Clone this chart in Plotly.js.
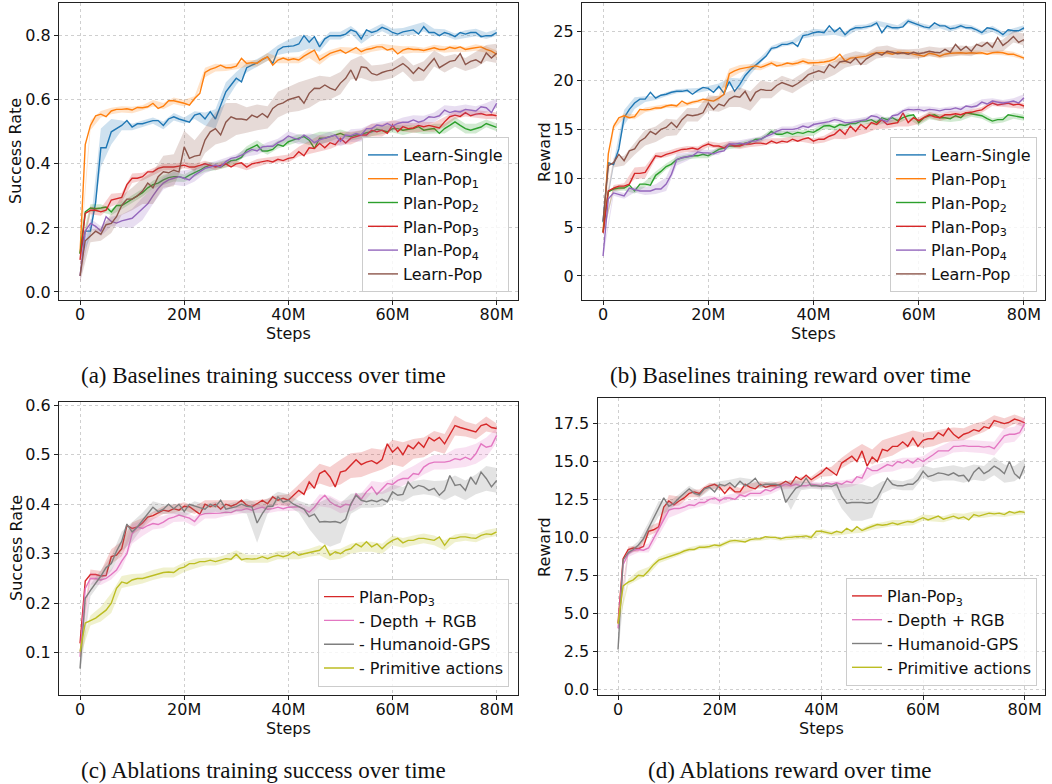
<!DOCTYPE html>
<html><head><meta charset="utf-8">
<script src="https://cdn.plot.ly/plotly-3.0.1.min.js"></script>
<style>html,body{margin:0;padding:0;background:#fff;}#chart{width:1052px;height:784px;}</style>
</head><body><div id="chart"></div>
<script>
// ---------- shared x (millions of steps) ----------
const steps = [0,1,2,3,4,5,6,7,8,9,10,11,12,13,14,15,16,17,18,19,20,21,22,23,24,25,26,27,28,29,30,31,32,33,34,35,36,37,38,39,40,41,42,43,44,45,46,47,48,49,50,51,52,53,54,55,56,57,58,59,60,61,62,63,64,65,66,67,68,69,70,71,72,73,74,75,76,77,78,79,80];
const bandSteps = [0,2,4,6,8,10,12,14,16,18,20,22,24,26,28,30,32,34,36,38,40,42,44,46,48,50,52,54,56,58,60,62,64,66,68,70,72,74,76,78,80];
const xTickVals = [0,20,40,60,80];
const xTickText = ['0','20M','40M','60M','80M'];

// ---------- (a) baselines success ----------
const aLearnSingle = [0.12,0.19,0.19,0.28,0.45,0.45,0.50,0.51,0.52,0.535,
0.515,0.525,0.525,0.53,0.535,0.535,0.52,0.54,0.547,0.54,
0.535,0.53,0.552,0.557,0.54,0.563,0.54,0.58,0.625,0.646,
0.667,0.656,0.70,0.708,0.715,0.725,0.734,0.713,0.755,0.765,
0.767,0.768,0.774,0.80,0.78,0.797,0.765,0.79,0.80,0.80,
0.80,0.805,0.818,0.812,0.79,0.818,0.81,0.815,0.826,0.82,
0.81,0.805,0.812,0.815,0.818,0.805,0.828,0.81,0.81,0.80,
0.81,0.805,0.797,0.81,0.805,0.81,0.81,0.797,0.80,0.80,
0.81];
const aPlanPop1 = [0.12,0.46,0.52,0.55,0.555,0.547,0.565,0.57,0.57,0.572,
0.568,0.576,0.575,0.578,0.589,0.573,0.58,0.597,0.597,0.594,
0.589,0.583,0.604,0.62,0.685,0.695,0.70,0.708,0.70,0.70,
0.705,0.729,0.713,0.716,0.714,0.726,0.734,0.708,0.724,0.73,
0.724,0.728,0.724,0.736,0.745,0.755,0.724,0.735,0.745,0.75,
0.755,0.745,0.755,0.763,0.75,0.757,0.76,0.765,0.765,0.755,
0.76,0.743,0.755,0.76,0.757,0.757,0.754,0.757,0.762,0.757,
0.757,0.764,0.76,0.765,0.757,0.76,0.763,0.765,0.757,0.752,
0.742];
const aPlanPop2 = [0.12,0.25,0.262,0.26,0.262,0.265,0.25,0.27,0.27,0.28,
0.29,0.30,0.31,0.325,0.335,0.34,0.35,0.357,0.36,0.36,
0.355,0.365,0.372,0.38,0.39,0.396,0.392,0.39,0.40,0.41,
0.412,0.42,0.443,0.45,0.459,0.44,0.44,0.445,0.46,0.455,
0.469,0.475,0.48,0.485,0.474,0.448,0.48,0.48,0.485,0.49,
0.495,0.488,0.485,0.49,0.492,0.497,0.50,0.508,0.505,0.50,
0.51,0.51,0.505,0.508,0.51,0.516,0.505,0.508,0.51,0.495,
0.51,0.52,0.531,0.52,0.51,0.505,0.51,0.515,0.526,0.52,
0.514];
const aPlanPop3 = [0.10,0.245,0.255,0.255,0.25,0.255,0.287,0.292,0.295,0.335,
0.355,0.355,0.36,0.375,0.375,0.386,0.39,0.39,0.39,0.393,
0.396,0.39,0.39,0.395,0.40,0.395,0.39,0.395,0.40,0.39,
0.40,0.403,0.39,0.40,0.403,0.406,0.41,0.406,0.414,0.41,
0.417,0.42,0.438,0.425,0.45,0.448,0.464,0.45,0.466,0.46,
0.48,0.465,0.48,0.485,0.49,0.49,0.505,0.50,0.505,0.495,
0.521,0.50,0.516,0.51,0.512,0.52,0.516,0.52,0.515,0.512,
0.531,0.547,0.552,0.548,0.56,0.55,0.555,0.557,0.552,0.553,
0.55];
const aPlanPop4 = [0.05,0.19,0.214,0.205,0.19,0.235,0.22,0.215,0.222,0.225,
0.23,0.245,0.26,0.275,0.30,0.323,0.34,0.35,0.355,0.36,
0.355,0.35,0.365,0.375,0.386,0.39,0.396,0.39,0.407,0.417,
0.42,0.427,0.435,0.445,0.44,0.453,0.455,0.455,0.466,0.474,
0.487,0.48,0.476,0.49,0.48,0.466,0.475,0.48,0.485,0.49,
0.47,0.49,0.488,0.495,0.49,0.51,0.51,0.521,0.518,0.526,
0.518,0.526,0.53,0.53,0.537,0.53,0.535,0.547,0.545,0.55,
0.568,0.56,0.565,0.562,0.57,0.568,0.565,0.578,0.575,0.56,
0.589];
const aLearnPop = [0.05,0.16,0.175,0.19,0.18,0.21,0.214,0.235,0.27,0.29,
0.29,0.30,0.315,0.34,0.325,0.36,0.375,0.372,0.38,0.375,
0.453,0.417,0.424,0.427,0.474,0.50,0.51,0.49,0.53,0.547,
0.54,0.54,0.537,0.552,0.545,0.557,0.545,0.573,0.585,0.59,
0.60,0.605,0.61,0.589,0.62,0.636,0.635,0.646,0.636,0.63,
0.652,0.667,0.693,0.66,0.703,0.70,0.682,0.677,0.685,0.69,
0.693,0.703,0.713,0.70,0.682,0.70,0.69,0.71,0.729,0.70,
0.71,0.72,0.723,0.744,0.71,0.72,0.725,0.715,0.746,0.73,
0.745];
const aLearnSingleBand = [0.02,0.02,0.06,0.04,0.015,0.01,0.01,0.01,0.012,0.012,0.01,0.012,0.02,0.03,0.03,0.02,0.015,0.012,0.012,0.015,0.02,0.025,0.02,0.015,0.012,0.012,0.012,0.015,0.012,0.012,0.012,0.012,0.015,0.015,0.012,0.01,0.01,0.012,0.012,0.01,0.01];
const aPlanPop1Band = [0.02,0.015,0.01,0.01,0.01,0.01,0.008,0.01,0.01,0.01,0.01,0.008,0.015,0.012,0.01,0.01,0.01,0.01,0.012,0.01,0.01,0.01,0.015,0.015,0.01,0.01,0.008,0.01,0.01,0.01,0.01,0.012,0.01,0.008,0.01,0.01,0.01,0.008,0.01,0.01,0.012];
const aPlanPop2Band = [0.02,0.012,0.012,0.01,0.012,0.012,0.012,0.012,0.015,0.015,0.012,0.012,0.015,0.012,0.012,0.012,0.012,0.015,0.012,0.012,0.012,0.012,0.015,0.02,0.015,0.012,0.012,0.012,0.015,0.012,0.012,0.015,0.012,0.012,0.015,0.015,0.015,0.015,0.015,0.012,0.012];
const aPlanPop3Band = [0.02,0.012,0.012,0.02,0.015,0.015,0.012,0.012,0.01,0.01,0.01,0.01,0.01,0.01,0.01,0.01,0.01,0.012,0.01,0.01,0.012,0.015,0.02,0.025,0.02,0.02,0.02,0.015,0.02,0.02,0.015,0.015,0.015,0.015,0.015,0.015,0.012,0.012,0.012,0.012,0.01];
const aPlanPop4Band = [0.02,0.015,0.015,0.015,0.02,0.03,0.035,0.025,0.02,0.02,0.025,0.02,0.015,0.012,0.012,0.01,0.012,0.012,0.012,0.012,0.015,0.015,0.015,0.015,0.015,0.015,0.02,0.02,0.015,0.015,0.015,0.015,0.015,0.015,0.015,0.015,0.015,0.015,0.015,0.015,0.015];
const aLearnPopBand = [0.02,0.02,0.02,0.03,0.03,0.035,0.04,0.05,0.05,0.05,0.05,0.05,0.04,0.05,0.06,0.05,0.04,0.04,0.035,0.04,0.04,0.045,0.045,0.04,0.035,0.035,0.03,0.035,0.025,0.025,0.025,0.025,0.025,0.03,0.025,0.025,0.02,0.02,0.025,0.025,0.03];

// ---------- (b) baselines reward ----------
const bLearnSingle = [5.5,11.6,11.4,13.0,16.2,17.05,17.7,18.1,18.1,18.8,
18.2,18.5,18.6,18.8,18.9,18.9,19.0,18.6,19.0,19.3,
19.2,18.8,19.4,18.7,19.9,18.9,19.6,20.5,21.1,21.6,
22.1,22.5,23.3,23.4,23.7,23.7,23.9,23.5,24.6,24.7,
24.9,25.0,24.9,25.6,25.0,25.4,24.7,25.2,25.4,25.4,
25.5,25.6,25.9,24.9,25.6,25.4,25.4,25.5,26.1,25.9,
25.7,25.5,25.4,25.9,25.6,25.6,25.3,25.4,25.6,25.4,
25.4,25.2,24.9,25.4,25.3,25.1,24.7,25.2,25.1,25.1,
25.4];
const bPlanPop1 = [4.5,12.5,15.3,16.2,16.4,16.2,16.3,17.05,17.0,17.05,
17.2,17.2,17.4,17.5,17.4,17.9,17.6,17.8,17.9,18.1,
18.0,17.9,18.2,18.6,20.7,21.0,21.2,21.3,21.4,21.5,
21.35,21.6,21.8,21.5,21.6,21.8,21.7,21.8,22.0,21.8,
21.8,21.85,21.9,22.0,22.2,22.7,22.0,22.3,22.35,22.4,
22.5,22.7,22.85,22.85,22.85,22.7,22.9,22.85,22.85,22.7,
22.6,22.5,22.8,22.7,22.5,22.7,22.8,22.85,22.85,22.8,
22.85,22.8,22.85,22.7,22.85,22.9,22.85,22.7,22.7,22.5,
22.3];
const bPlanPop2 = [4.5,8.6,8.9,9.0,9.0,9.3,8.7,9.4,9.4,9.3,
10.3,10.7,11.2,11.45,11.9,12.1,12.2,12.3,12.3,12.45,
12.3,12.6,12.95,13.1,13.3,13.3,13.4,13.6,13.7,14.0,
14.0,14.3,14.8,14.5,14.5,14.7,14.5,14.7,14.6,14.8,
14.7,15.0,15.35,15.4,15.2,15.5,15.4,15.6,15.6,15.85,
15.85,16.0,15.7,16.2,16.0,16.2,15.9,16.2,16.4,16.5,
15.7,16.2,16.4,16.5,16.2,16.2,16.1,16.4,16.2,16.7,
16.6,16.5,16.4,16.1,15.85,16.0,16.0,16.5,16.4,16.3,
16.2];
const bPlanPop3 = [4.4,8.7,9.0,9.2,9.2,9.4,10.5,10.5,10.6,11.4,
12.3,12.2,12.45,12.6,12.8,12.95,13.0,13.1,12.95,13.3,
13.5,13.3,13.3,13.1,13.5,13.3,13.3,13.5,13.5,13.6,
13.6,13.5,13.8,13.6,13.8,13.7,14.0,13.8,14.0,14.15,
13.8,14.0,14.0,14.3,14.5,15.0,14.5,15.35,14.8,15.5,
15.1,15.7,15.5,16.0,15.5,15.6,15.7,16.7,15.7,16.2,
15.9,16.2,16.5,16.3,16.2,16.5,16.5,16.6,16.5,16.7,
16.75,16.9,17.0,17.4,17.7,17.5,17.6,17.7,17.5,17.6,
17.4];
const bPlanPop4 = [2.05,7.9,8.5,8.35,8.2,9.0,8.85,8.7,8.7,8.7,
8.9,8.9,9.4,10.4,11.9,12.1,12.2,12.3,12.7,12.6,
12.6,12.5,12.7,12.8,13.5,13.5,13.6,13.5,13.8,13.8,
14.0,14.3,14.5,14.8,15.0,15.0,15.0,15.1,15.35,15.2,
15.5,15.6,15.7,15.8,16.0,15.9,15.7,15.7,15.8,15.9,
16.0,16.4,16.3,16.0,15.8,16.4,16.5,16.9,17.05,17.0,
17.05,16.9,17.05,17.0,16.9,17.05,17.05,17.2,17.05,17.4,
17.3,17.4,17.8,17.6,17.9,17.8,17.7,17.8,17.9,17.7,
18.25];
const bLearnPop = [5.6,11.3,11.6,12.45,11.8,12.8,13.0,13.8,14.15,14.8,
14.5,15.0,15.2,15.7,15.2,16.0,16.5,16.4,16.5,16.7,
17.7,17.05,17.6,17.4,18.1,18.4,18.3,18.9,17.9,18.8,
19.1,19.0,19.0,19.5,19.8,19.6,19.4,19.7,20.1,20.6,
20.8,21.0,20.8,21.65,21.3,21.9,22.0,21.8,22.3,21.65,
22.2,22.5,22.85,22.6,23.0,22.9,22.75,22.85,22.7,22.9,
22.75,22.85,23.0,22.9,22.85,23.2,22.9,23.7,23.1,23.5,
23.0,23.7,23.5,23.9,23.4,24.4,23.6,24.0,24.5,23.9,
24.2];
const bLearnSingleBand = [0.3,0.3,0.8,0.6,0.3,0.2,0.2,0.2,0.2,0.25,0.25,0.3,0.4,0.6,0.5,0.3,0.25,0.25,0.25,0.3,0.4,0.3,0.3,0.3,0.3,0.25,0.25,0.3,0.25,0.25,0.25,0.25,0.25,0.3,0.25,0.25,0.25,0.3,0.3,0.25,0.25];
const bPlanPop1Band = [0.3,0.3,0.25,0.25,0.25,0.25,0.2,0.2,0.2,0.2,0.25,0.3,0.5,0.4,0.3,0.3,0.25,0.25,0.25,0.3,0.3,0.3,0.3,0.3,0.25,0.25,0.25,0.25,0.25,0.25,0.3,0.25,0.25,0.25,0.25,0.25,0.2,0.2,0.25,0.25,0.2];
const bPlanPop2Band = [0.3,0.25,0.25,0.25,0.3,0.4,0.3,0.3,0.25,0.25,0.25,0.25,0.3,0.3,0.3,0.25,0.25,0.3,0.3,0.35,0.35,0.3,0.3,0.3,0.3,0.3,0.3,0.3,0.3,0.3,0.3,0.35,0.35,0.35,0.3,0.3,0.3,0.3,0.3,0.3,0.3];
const bPlanPop3Band = [0.3,0.3,0.3,0.6,0.6,0.3,0.3,0.3,0.3,0.3,0.3,0.3,0.3,0.3,0.3,0.3,0.3,0.3,0.3,0.3,0.3,0.35,0.45,0.5,0.5,0.5,0.45,0.4,0.4,0.4,0.35,0.3,0.35,0.35,0.3,0.3,0.3,0.3,0.3,0.3,0.3];
const bPlanPop4Band = [0.3,0.3,0.3,0.3,0.4,0.5,0.7,0.6,0.4,0.3,0.3,0.3,0.3,0.3,0.3,0.3,0.3,0.3,0.3,0.3,0.3,0.3,0.3,0.3,0.3,0.3,0.35,0.35,0.3,0.3,0.3,0.3,0.3,0.3,0.3,0.3,0.3,0.3,0.3,0.3,0.35];
const bLearnPopBand = [0.5,0.5,0.5,0.6,0.8,0.8,0.9,0.8,0.7,0.7,0.8,0.8,0.8,1.0,1.0,0.9,0.8,0.7,0.7,0.7,0.8,0.7,0.7,0.7,0.7,0.6,0.6,0.6,0.5,0.5,0.5,0.5,0.5,0.5,0.5,0.5,0.5,0.5,0.6,0.6,0.6];

// ---------- (c) ablations success ----------
const cPlanPop3 = [0.119,0.245,0.258,0.258,0.255,0.256,0.294,0.297,0.31,0.357,
0.351,0.354,0.362,0.374,0.377,0.382,0.388,0.386,0.391,0.388,
0.396,0.395,0.388,0.38,0.40,0.395,0.40,0.39,0.40,0.396,
0.40,0.408,0.398,0.395,0.401,0.408,0.401,0.415,0.408,0.412,
0.408,0.418,0.428,0.42,0.445,0.432,0.462,0.468,0.455,0.435,
0.465,0.468,0.478,0.49,0.48,0.485,0.488,0.482,0.49,0.522,
0.505,0.515,0.50,0.519,0.512,0.525,0.515,0.535,0.528,0.535,
0.522,0.54,0.559,0.555,0.552,0.549,0.546,0.559,0.562,0.555,
0.553];
const cDepthRGB = [0.092,0.23,0.25,0.25,0.247,0.25,0.258,0.267,0.285,0.30,
0.34,0.354,0.351,0.357,0.361,0.359,0.364,0.371,0.374,0.378,
0.375,0.372,0.365,0.378,0.381,0.381,0.381,0.382,0.384,0.383,
0.388,0.388,0.391,0.388,0.391,0.394,0.39,0.391,0.394,0.391,
0.394,0.394,0.395,0.39,0.384,0.394,0.408,0.418,0.405,0.398,
0.394,0.40,0.398,0.421,0.41,0.425,0.435,0.42,0.432,0.442,
0.44,0.448,0.452,0.452,0.462,0.46,0.475,0.482,0.485,0.485,
0.485,0.487,0.492,0.49,0.495,0.49,0.502,0.522,0.515,0.518,
0.539];
const cHumanoidGPS = [0.068,0.21,0.226,0.24,0.255,0.272,0.28,0.305,0.325,0.36,
0.344,0.354,0.368,0.38,0.394,0.385,0.39,0.40,0.391,0.40,
0.385,0.40,0.396,0.393,0.39,0.40,0.395,0.408,0.39,0.392,
0.395,0.40,0.396,0.395,0.362,0.381,0.396,0.396,0.415,0.404,
0.408,0.40,0.395,0.39,0.375,0.38,0.364,0.365,0.364,0.365,
0.362,0.37,0.401,0.418,0.408,0.405,0.408,0.405,0.41,0.405,
0.425,0.418,0.42,0.445,0.432,0.438,0.435,0.428,0.432,0.418,
0.428,0.458,0.438,0.44,0.428,0.455,0.44,0.465,0.452,0.435,
0.448];
const cPrimitive = [0.102,0.16,0.165,0.17,0.178,0.186,0.2,0.23,0.243,0.24,
0.247,0.25,0.25,0.253,0.257,0.26,0.262,0.263,0.262,0.27,
0.273,0.28,0.28,0.284,0.284,0.287,0.284,0.287,0.29,0.289,
0.299,0.288,0.29,0.289,0.29,0.294,0.29,0.294,0.297,0.294,
0.297,0.304,0.297,0.30,0.302,0.304,0.307,0.317,0.297,0.304,
0.30,0.307,0.31,0.32,0.314,0.324,0.314,0.32,0.31,0.32,
0.327,0.331,0.322,0.327,0.327,0.331,0.331,0.329,0.327,0.334,
0.317,0.331,0.331,0.334,0.334,0.332,0.331,0.337,0.34,0.339,
0.344];
const cPlanPop3Band = [0.015,0.01,0.01,0.015,0.015,0.012,0.01,0.008,0.008,0.008,0.008,0.008,0.008,0.008,0.008,0.008,0.008,0.008,0.01,0.01,0.012,0.012,0.015,0.02,0.02,0.025,0.025,0.025,0.025,0.02,0.025,0.025,0.02,0.02,0.02,0.02,0.02,0.015,0.015,0.015,0.01];
const cDepthRGBBand = [0.015,0.012,0.01,0.01,0.015,0.02,0.015,0.012,0.012,0.01,0.01,0.01,0.01,0.01,0.008,0.008,0.008,0.008,0.008,0.008,0.008,0.008,0.01,0.012,0.012,0.012,0.012,0.012,0.012,0.012,0.012,0.015,0.015,0.015,0.015,0.015,0.02,0.02,0.02,0.02,0.015];
const cHumanoidGPSBand = [0.015,0.012,0.012,0.015,0.02,0.02,0.015,0.012,0.01,0.01,0.01,0.01,0.01,0.01,0.01,0.01,0.015,0.04,0.015,0.01,0.012,0.012,0.025,0.04,0.05,0.04,0.02,0.015,0.015,0.015,0.015,0.015,0.015,0.015,0.015,0.02,0.02,0.02,0.02,0.025,0.025];
const cPrimitiveBand = [0.01,0.01,0.015,0.02,0.012,0.012,0.01,0.01,0.01,0.01,0.01,0.01,0.008,0.008,0.008,0.008,0.008,0.008,0.008,0.008,0.008,0.008,0.008,0.01,0.01,0.01,0.01,0.01,0.01,0.01,0.01,0.01,0.01,0.01,0.01,0.01,0.008,0.008,0.008,0.008,0.008];

// ---------- (d) ablations reward ----------
const dPlanPop3 = [4.35,8.6,9.2,9.3,9.25,9.4,10.4,10.5,10.7,12.0,
12.4,12.15,12.4,12.6,12.9,13.0,12.9,13.25,13.4,13.5,
13.3,12.9,13.3,13.0,13.0,13.5,13.3,13.2,13.5,13.3,
13.4,13.4,13.5,13.7,13.5,14.0,13.8,14.1,13.8,14.0,
14.25,14.6,14.35,14.1,14.9,15.1,15.35,15.0,15.7,14.7,
15.3,15.0,15.8,15.7,16.0,16.0,16.3,16.0,16.55,16.0,
16.4,16.5,16.5,16.9,16.7,17.2,16.8,16.55,16.8,16.9,
17.1,17.0,17.3,17.2,17.7,17.6,17.5,17.6,17.8,17.7,
17.55];
const dDepthRGB = [4.0,8.2,8.9,9.15,9.2,9.15,9.3,9.9,10.5,11.2,
11.8,11.9,11.9,12.0,12.15,12.1,12.3,12.3,12.5,12.6,
12.4,12.6,12.6,12.5,12.8,12.7,12.9,12.9,12.9,13.15,
13.05,13.25,13.35,13.5,13.4,13.5,13.4,13.4,13.5,13.45,
13.4,13.6,13.5,13.6,13.5,13.7,13.6,14.0,13.9,14.6,
14.4,14.4,14.6,14.8,14.7,15.0,14.9,15.1,14.9,15.2,
15.0,15.2,15.45,15.7,15.7,15.7,16.0,16.0,16.05,16.0,
16.0,16.0,15.95,16.0,15.85,16.3,16.7,16.8,16.8,16.9,
17.5];
const dHumanoidGPS = [2.6,8.5,9.0,9.2,9.5,9.9,10.6,11.3,11.9,12.6,
12.05,12.25,12.6,12.9,13.2,12.9,12.8,13.2,13.3,13.0,
13.5,13.4,13.6,13.3,13.7,13.4,13.6,13.9,13.4,13.5,
13.5,13.5,13.4,12.3,12.8,13.25,13.4,13.9,13.4,13.4,
13.35,13.4,13.35,13.5,12.7,12.25,12.3,12.3,12.3,12.25,
12.3,12.6,13.3,13.9,13.5,13.4,13.4,13.5,13.5,13.8,
14.35,14.0,14.1,14.25,14.2,14.1,14.25,14.05,14.1,13.7,
14.3,14.6,14.2,14.4,14.7,14.5,14.2,15.0,14.2,13.9,
14.7];
const dPrimitive = [4.3,6.8,7.05,7.2,7.5,7.45,7.8,8.2,8.5,8.6,
8.75,8.85,8.95,9.1,9.2,9.2,9.35,9.35,9.4,9.5,
9.45,9.6,9.75,9.8,9.75,9.7,9.85,9.9,9.9,10.05,
10.0,10.0,9.9,10.0,10.0,10.05,10.05,10.1,10.0,10.4,
10.4,10.3,10.25,10.4,10.3,10.6,10.4,10.7,10.45,10.6,
10.7,10.85,10.8,10.85,10.95,10.85,10.95,11.05,11.0,11.15,
11.3,11.15,11.25,11.4,11.2,11.3,11.4,11.25,11.35,11.15,
11.5,11.4,11.5,11.6,11.55,11.6,11.5,11.7,11.6,11.7,
11.65];
const dPlanPop3Band = [0.2,0.2,0.2,0.3,0.3,0.4,0.3,0.25,0.25,0.2,0.2,0.2,0.25,0.25,0.2,0.2,0.2,0.2,0.2,0.2,0.25,0.3,0.35,0.4,0.45,0.5,0.6,0.6,0.5,0.5,0.5,0.5,0.45,0.45,0.4,0.4,0.35,0.35,0.35,0.3,0.3];
const dDepthRGBBand = [0.2,0.2,0.2,0.3,0.4,0.5,0.35,0.3,0.3,0.25,0.25,0.25,0.2,0.2,0.2,0.2,0.2,0.2,0.2,0.2,0.2,0.2,0.25,0.25,0.3,0.3,0.3,0.35,0.35,0.35,0.35,0.35,0.4,0.4,0.4,0.4,0.4,0.45,0.5,0.5,0.45];
const dHumanoidGPSBand = [0.3,0.2,0.25,0.4,0.5,0.3,0.25,0.2,0.2,0.2,0.2,0.2,0.25,0.25,0.2,0.2,0.2,1.0,0.3,0.2,0.2,0.2,0.8,1.2,1.2,1.0,0.4,0.3,0.3,0.4,0.4,0.45,0.45,0.5,0.5,0.5,0.5,0.6,0.6,0.5,0.5];
const dPrimitiveBand = [0.2,0.2,0.3,0.25,0.2,0.2,0.15,0.15,0.15,0.15,0.15,0.15,0.12,0.12,0.12,0.12,0.12,0.15,0.15,0.15,0.15,0.15,0.15,0.15,0.15,0.2,0.2,0.2,0.2,0.2,0.2,0.2,0.2,0.2,0.2,0.2,0.2,0.15,0.15,0.15,0.15];

// ---------- labels ----------
const baselineNames = ['Learn-Single','Plan-Pop<sub>1</sub>','Plan-Pop<sub>2</sub>','Plan-Pop<sub>3</sub>','Plan-Pop<sub>4</sub>','Learn-Pop'];
const ablationNames = ['Plan-Pop<sub>3</sub>','- Depth + RGB','- Humanoid-GPS','- Primitive actions'];
const captions = ['(a) Baselines training success over time','(b) Baselines training reward over time','(c) Ablations training success over time','(d) Ablations reward over time'];

// ---------- styling ----------
const C = {blue:'#1f77b4',orange:'#ff7f0e',green:'#2ca02c',red:'#d62728',purple:'#9467bd',brown:'#8c564b',pink:'#e377c2',gray:'#7f7f7f',olive:'#bcbd22'};
function rgba(hex,a){const n=parseInt(hex.slice(1),16);return `rgba(${(n>>16)&255},${(n>>8)&255},${n&255},${a})`;}

const traces = [];
function addSeries(xa, ya, name, y, hw, color, legend){
  const lo=[], hi=[];
  bandSteps.forEach((s,k)=>{const i=steps.indexOf(s); lo.push(y[i]-hw[k]); hi.push(y[i]+hw[k]);});
  traces.push({type:'scatter',x:bandSteps,y:lo,xaxis:xa,yaxis:ya,mode:'lines',line:{width:0,color:color},showlegend:false,hoverinfo:'skip'});
  traces.push({type:'scatter',x:bandSteps,y:hi,xaxis:xa,yaxis:ya,mode:'lines',line:{width:0,color:color},fill:'tonexty',fillcolor:rgba(color,0.22),showlegend:false,hoverinfo:'skip'});
  traces.push({type:'scatter',x:steps,y:y,xaxis:xa,yaxis:ya,mode:'lines',line:{color:color,width:1.4},name:name,legend:legend});
}

const baseColors = [C.blue,C.orange,C.green,C.red,C.purple,C.brown];
const ablColors = [C.red,C.pink,C.gray,C.olive];
[aLearnSingle,aPlanPop1,aPlanPop2,aPlanPop3,aPlanPop4,aLearnPop].forEach((y,i)=>addSeries('x','y',baselineNames[i],y,[aLearnSingleBand,aPlanPop1Band,aPlanPop2Band,aPlanPop3Band,aPlanPop4Band,aLearnPopBand][i],baseColors[i],'legend'));
[bLearnSingle,bPlanPop1,bPlanPop2,bPlanPop3,bPlanPop4,bLearnPop].forEach((y,i)=>addSeries('x2','y2',baselineNames[i],y,[bLearnSingleBand,bPlanPop1Band,bPlanPop2Band,bPlanPop3Band,bPlanPop4Band,bLearnPopBand][i],baseColors[i],'legend2'));
[cPlanPop3,cDepthRGB,cHumanoidGPS,cPrimitive].forEach((y,i)=>addSeries('x3','y3',ablationNames[i],y,[cPlanPop3Band,cDepthRGBBand,cHumanoidGPSBand,cPrimitiveBand][i],ablColors[i],'legend3'));
[dPlanPop3,dDepthRGB,dHumanoidGPS,dPrimitive].forEach((y,i)=>addSeries('x4','y4',ablationNames[i],y,[dPlanPop3Band,dDepthRGBBand,dHumanoidGPSBand,dPrimitiveBand][i],ablColors[i],'legend4'));

const FONT = 'DejaVu Sans, Liberation Sans, sans-serif';
const axCommon = {showgrid:true,gridcolor:'#cfcfcf',griddash:'3px,3px',gridwidth:1,zeroline:false,showline:true,mirror:true,linecolor:'#222',linewidth:1.2,ticks:'outside',ticklen:4,tickwidth:1,tickcolor:'#222',tickfont:{family:FONT,size:16,color:'#111'},fixedrange:true};
function xax(domain,anchor){return Object.assign({},axCommon,{domain:domain,anchor:anchor,range:[-4,84],tickmode:'array',tickvals:xTickVals,ticktext:xTickText,ticklabelstandoff:-4});}
function yax(domain,anchor,range,vals,fmt){return Object.assign({},axCommon,{domain:domain,anchor:anchor,range:range,tickmode:'array',tickvals:vals,tickformat:fmt});}

const W=1052,H=784;
const L1=[59.2/W,517.5/W], L2=[582/W,1045/W], L4=[597.7/W,1045/W];
const T=[1-300/H,1-3/H], B3=[1-695/H,1-402/H], B4=[1-695/H,1-398.3/H];

function legendBox(xr,yb){return {x:xr,xanchor:'right',y:yb,yanchor:'bottom',traceorder:'normal',bgcolor:'rgba(255,255,255,0.8)',bordercolor:'#cccccc',borderwidth:1,font:{family:FONT,size:16,color:'#111'},itemwidth:30,tracegroupgap:0};}

const ann = [];
function txt(x,y,text,opts){ann.push(Object.assign({xref:'paper',yref:'paper',x:x/W,y:1-y/H,text:text,showarrow:false,xanchor:'center',yanchor:'middle',font:{family:FONT,size:16,color:'#111'}},opts||{}));}
txt(288.5,334,'Steps'); txt(813.5,334,'Steps'); txt(288.5,728,'Steps'); txt(821,728,'Steps');
txt(16,151,'Success Rate',{textangle:-90}); txt(544,152,'Reward',{textangle:-90});
txt(16,548,'Success Rate',{textangle:-90}); txt(544,547,'Reward',{textangle:-90});
const capFont = {family:'Liberation Serif, Times New Roman, serif',size:23,color:'#111'};
txt(263,375,captions[0],{font:capFont}); txt(790,375,captions[1],{font:capFont});
txt(263,770,captions[2],{font:capFont}); txt(790,770,captions[3],{font:capFont});

const layout = {
  width:W,height:H,margin:{l:0,r:0,t:0,b:0},paper_bgcolor:'#fff',plot_bgcolor:'#fff',showlegend:true,
  xaxis:xax(L1,'y'), yaxis:yax(T,'x',[-0.025,0.902],[0,0.2,0.4,0.6,0.8],'.1f'),
  xaxis2:xax(L2,'y2'), yaxis2:yax(T,'x2',[-2.46,27.94],[0,5,10,15,20,25],'d'),
  xaxis3:xax(L1,'y3'), yaxis3:yax(B3,'x3',[0.0146,0.6065],[0.1,0.2,0.3,0.4,0.5,0.6],'.1f'),
  xaxis4:xax(L4,'y4'), yaxis4:yax(B4,'x4',[-0.395,19.17],[0,2.5,5,7.5,10,12.5,15,17.5],'.1f'),
  legend:legendBox(509/W,1-292/H),
  legend2:legendBox(1037/W,1-292/H),
  legend3:legendBox(509/W,1-686.7/H),
  legend4:legendBox(1037/W,1-686/H),
  annotations:ann
};
Plotly.newPlot('chart',traces,layout,{staticPlot:true,displayModeBar:false});
</script></body></html>
